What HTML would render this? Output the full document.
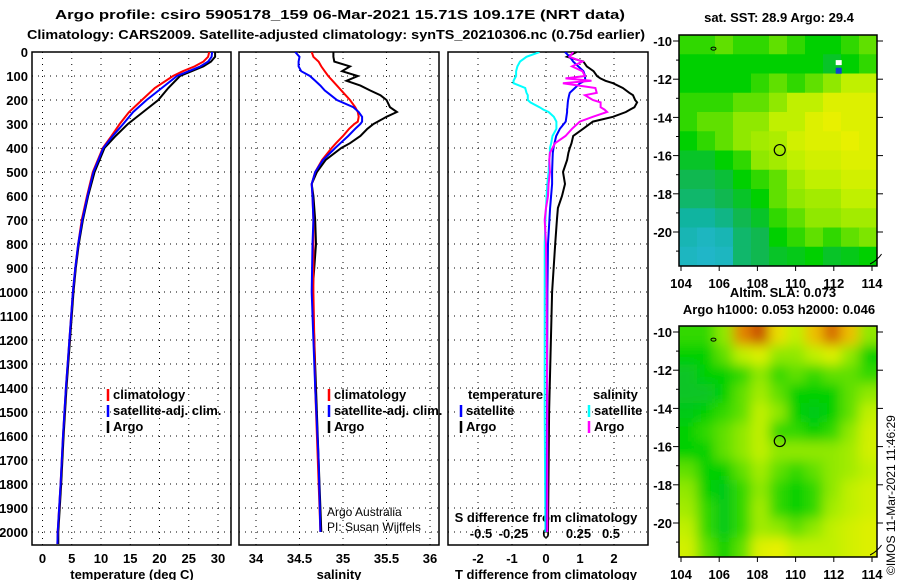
<!DOCTYPE html>
<html><head><meta charset="utf-8"><title>Argo profile</title>
<style>
html,body{margin:0;padding:0;background:#fff;}
svg{display:block;font-family:"Liberation Sans",Arial,sans-serif;}
.b{font-weight:bold;font-size:13px;}
.n{font-weight:normal;font-size:12px;}
</style></head>
<body>
<svg id="chart" width="900" height="580" viewBox="0 0 900 580" xmlns="http://www.w3.org/2000/svg">
<defs>
<clipPath id="c1"><rect x="32" y="52" width="199" height="493"/></clipPath>
<clipPath id="c2"><rect x="239" y="52" width="200" height="493"/></clipPath>
<clipPath id="c3"><rect x="448" y="52" width="200" height="493"/></clipPath>
<clipPath id="cm1"><rect x="679" y="35" width="198" height="231"/></clipPath>
<clipPath id="cm2"><rect x="679" y="326" width="198" height="231"/></clipPath>
<filter id="blur" x="-5%" y="-5%" width="110%" height="110%"><feGaussianBlur stdDeviation="6"/></filter>
</defs>
<text class="b" x="55" y="19" textLength="570" lengthAdjust="spacingAndGlyphs">Argo profile: csiro 5905178_159 06-Mar-2021 15.71S 109.17E (NRT data)</text>
<text class="b" x="27" y="39" textLength="618" lengthAdjust="spacingAndGlyphs">Climatology: CARS2009. Satellite-adjusted climatology: synTS_20210306.nc (0.75d earlier)</text>
<g id="root"></g>
</svg>
<script>
// ---------- data ----------
const depthTicks = [0,100,200,300,400,500,600,700,800,900,1000,1100,1200,1300,1400,1500,1600,1700,1800,1900,2000];
const tempTicks = [0,5,10,15,20,25,30];
const salTicks = [34,34.5,35,35.5,36];
const salTickLabels = ["34","34.5","35","35.5","36"];
const tdTicks = [-2,-1,0,1,2];
const sdTicks = [-0.5,-0.25,0,0.25,0.5];
const sdTickLabels = ["-0.5","-0.25","0","0.25","0.5"];
const lonTicks = [104,106,108,110,112,114];
const latTicks = [-10,-12,-14,-16,-18,-20];

const tDepth = [0,20,40,60,80,100,150,200,250,300,350,400,500,600,700,800,900,1000,1200,1400,1600,1800,2000,2050];
const tempClim = [28.5,28.3,27.5,26,24,22.3,19.2,17,14.8,13.2,11.8,10.3,8.6,7.6,6.7,6.1,5.6,5.2,4.6,4.0,3.5,3.1,2.6,2.55];
const tempSat = [29,28.9,28.3,27,25,23,20.4,17.8,15.5,13.8,12,10.4,8.7,7.7,6.8,6.1,5.6,5.2,4.6,4.0,3.5,3.1,2.6,2.55];
const tempArgo = [29.5,29.5,28.8,27.5,25.5,23.5,21.5,19.8,17.2,14.6,12.5,10.6,8.9,7.8,6.9,6.2,5.7,5.3,4.7,4.1,3.6,3.2,2.7,2.7];

const sDepth = [0,20,40,60,80,100,120,140,160,180,200,230,250,270,290,300,320,350,380,400,450,500,550,600,700,800,1000,1200,1400,1700,2000];
const salClim = [34.64,34.66,34.72,34.75,34.79,34.83,34.88,34.93,34.98,35.03,35.08,35.14,35.17,35.18,35.17,35.13,35.07,35.0,34.92,34.87,34.76,34.68,34.64,34.65,34.66,34.66,34.66,34.67,34.68,34.71,34.74];
const salSat = [34.45,34.5,34.49,34.49,34.52,34.62,34.68,34.74,34.79,34.86,34.93,35.12,35.18,35.22,35.22,35.2,35.14,35.06,34.97,34.91,34.77,34.68,34.64,34.65,34.66,34.65,34.64,34.66,34.68,34.72,34.74];
const salArgo = [34.89,34.89,34.9,35.08,34.99,35.17,35.04,35.2,35.31,35.43,35.5,35.54,35.62,35.5,35.4,35.35,35.28,35.2,35.08,34.98,34.8,34.7,34.64,34.66,34.68,34.69,34.65,34.67,34.69,34.72,34.75];

const dDepth = [0,20,40,60,80,100,110,120,130,150,170,180,200,210,230,240,250,270,290,320,350,380,400,420,450,500,550,600,650,700,800,1000,1500,2000];
const tDiffSat = [0.56,0.7,0.8,0.95,1.1,1.15,1.15,1.15,1.0,0.85,0.7,0.68,0.65,0.64,0.63,0.62,0.62,0.6,0.58,0.41,0.3,0.25,0.22,0.2,0.19,0.18,0.18,0.15,0.12,0.1,0.06,0.04,0.03,0.02];
const tDiffArgo = [0.9,0.62,1.1,1.2,1.4,1.5,1.6,1.75,1.97,2.26,2.45,2.56,2.62,2.68,2.6,2.47,2.35,1.97,1.38,1.09,0.8,0.75,0.7,0.66,0.62,0.5,0.56,0.47,0.35,0.32,0.27,0.18,0.09,0.06];
const sDiffSat = [-0.05,-0.15,-0.2,-0.22,-0.23,-0.23,-0.24,-0.25,-0.25,-0.16,-0.15,-0.14,-0.14,-0.12,-0.05,-0.02,0.02,0.06,0.08,0.08,0.05,0.04,0.03,0.03,0.025,0.02,0.01,0.005,0.0,-0.005,-0.01,-0.01,-0.01,-0.005];
const sDiffArgo = [0.21,0.18,0.28,0.2,0.28,0.3,0.15,0.35,0.13,0.38,0.39,0.3,0.36,0.42,0.42,0.45,0.47,0.36,0.26,0.2,0.15,0.07,0.05,0.03,0.025,0.03,0.02,0.015,0.0,-0.01,0.0,0.005,0.01,0.01];

const sstGrid = [
[0.5,0.5,0.55,0.5,0.5,0.55,0.5,0.45,0.45,0.5,0.55],
[0.45,0.45,0.45,0.45,0.45,0.45,0.45,0.45,0.4,0.45,0.5],
[0.45,0.45,0.45,0.45,0.5,0.55,0.5,0.55,0.6,0.65,0.65],
[0.5,0.5,0.5,0.55,0.55,0.6,0.65,0.65,0.7,0.7,0.7],
[0.5,0.55,0.55,0.6,0.6,0.65,0.65,0.7,0.72,0.7,0.7],
[0.45,0.5,0.55,0.6,0.62,0.63,0.68,0.7,0.7,0.72,0.7],
[0.4,0.4,0.45,0.5,0.6,0.62,0.65,0.68,0.68,0.7,0.7],
[0.35,0.35,0.38,0.45,0.5,0.55,0.62,0.65,0.65,0.68,0.68],
[0.3,0.3,0.35,0.4,0.45,0.55,0.6,0.62,0.62,0.65,0.65],
[0.2,0.2,0.25,0.35,0.4,0.5,0.55,0.6,0.6,0.62,0.62],
[0.15,0.12,0.15,0.3,0.35,0.45,0.5,0.55,0.5,0.55,0.58],
[0.12,0.1,0.12,0.3,0.35,0.4,0.42,0.45,0.4,0.42,0.45]];
const slaGrid = [
[0.5,0.5,0.6,0.9,1.0,0.75,0.65,0.8,0.95,0.8,0.6],
[0.45,0.45,0.55,0.65,0.7,0.6,0.6,0.65,0.7,0.6,0.45],
[0.4,0.45,0.45,0.5,0.6,0.5,0.55,0.5,0.55,0.55,0.5],
[0.4,0.4,0.45,0.55,0.62,0.55,0.45,0.45,0.45,0.55,0.6],
[0.42,0.45,0.5,0.55,0.65,0.6,0.45,0.42,0.45,0.55,0.65],
[0.45,0.5,0.55,0.6,0.65,0.5,0.5,0.45,0.5,0.6,0.68],
[0.45,0.45,0.55,0.6,0.65,0.6,0.6,0.6,0.6,0.62,0.68],
[0.55,0.45,0.45,0.55,0.62,0.55,0.5,0.55,0.6,0.62,0.65],
[0.6,0.45,0.42,0.5,0.6,0.5,0.45,0.5,0.6,0.65,0.68],
[0.62,0.5,0.42,0.5,0.62,0.5,0.45,0.5,0.62,0.65,0.68],
[0.65,0.5,0.42,0.5,0.62,0.6,0.55,0.6,0.65,0.68,0.7],
[0.68,0.55,0.45,0.55,0.7,0.72,0.65,0.65,0.65,0.68,0.7]];
const floatLon = 109.17;
const floatLat = -15.71;

// ---------- helpers ----------
const NS = "http://www.w3.org/2000/svg";
const root = document.getElementById("root");
function mk(tag, attrs, parent) {
  const e = document.createElementNS(NS, tag);
  for (const k in attrs) e.setAttribute(k, attrs[k]);
  (parent || root).appendChild(e);
  return e;
}
function txt(s, x, y, anchor, cls, parent) {
  const t = mk("text", {x: x, y: y, "text-anchor": anchor || "start", "class": cls || "b"}, parent);
  t.textContent = s;
  return t;
}
const depthY = d => 52 + d * 0.24;
const tempX = t => 42.5 + t * 5.85;
const salX = s => 256 + (s - 34) * 87;
const tdX = v => 546 + v * 34;
const sdX = v => 546 + v * 130;
const lonX = l => 681 + (l - 104) * 19.1;
const latY1 = l => 41 + (-10 - l) * 19.1;
const latY2 = l => 332 + (-10 - l) * 19.1;

const panels = [{x: 32, w: 199, clip: "c1"}, {x: 239, w: 200, clip: "c2"}, {x: 448, w: 200, clip: "c3"}];

// ---------- profile panels ----------
panels.forEach((p, i) => {
  const g = mk("g", {});
  
  
  depthTicks.forEach(d => {
    const l = mk("line", {x1: p.x, x2: p.x + p.w, y1: depthY(d), y2: depthY(d), stroke: "#000", "stroke-width": 1, "stroke-dasharray": "1 5"}, g);
    
    
  });
  let xs = i === 0 ? tempTicks.map(tempX) : i === 1 ? salTicks.map(salX) : tdTicks.map(tdX);
  xs.forEach(x => {
    const l = mk("line", {x1: x, x2: x, y1: 52, y2: 545, stroke: "#000", "stroke-width": 1, "stroke-dasharray": "1 5"}, g);
    
    
  });
  const r = mk("rect", {x: p.x, y: 52, width: p.w, height: 493, fill: "none", stroke: "#000", "stroke-width": 1.5}, g);
  
  
});

depthTicks.forEach(d => {
  const t = txt(String(d), 28, depthY(d) + 5, "end");
  
  
});
tempTicks.forEach(v => {
  const t = txt(String(v), tempX(v), 563, "middle");
  
  
});
salTicks.forEach((v, i) => {
  const t = txt(salTickLabels[i], salX(v), 563, "middle");
  
  
});
tdTicks.forEach(v => {
  const t = txt(String(v), tdX(v), 563, "middle");
  
  
});
sdTicks.forEach((v, i) => {
  const t = txt(sdTickLabels[i], sdX(v), 538, "middle");
  
  
});
let at;
at = txt("temperature (deg C)", 132, 579, "middle");  
at = txt("salinity", 339, 579, "middle");  
at = txt("T difference from climatology", 546, 579, "middle");  
at = txt("S difference from climatology", 546, 522, "middle");  

function series(vals, depths, fx, color, clip, name, w) {
  const pts = vals.map((v, i) => fx(v).toFixed(1) + "," + depthY(depths[i]).toFixed(1)).join(" ");
  const pl = mk("polyline", {points: pts, fill: "none", stroke: color, "stroke-width": w || 2, "stroke-linejoin": "miter", "clip-path": "url(#" + clip + ")"});
  
  
}
series(tempArgo, tDepth, tempX, "#000", "c1", "temperature-argo-line");
series(tempClim, tDepth, tempX, "#f00", "c1", "temperature-climatology-line");
series(tempSat, tDepth, tempX, "#00f", "c1", "temperature-satellite-line");
series(salArgo, sDepth, salX, "#000", "c2", "salinity-argo-line");
series(salClim, sDepth, salX, "#f00", "c2", "salinity-climatology-line");
series(salSat, sDepth, salX, "#00f", "c2", "salinity-satellite-line");
series(tDiffArgo, dDepth, tdX, "#000", "c3", "t-diff-argo-line");
series(sDiffSat, dDepth, sdX, "#0ff", "c3", "s-diff-satellite-line");
series(tDiffSat, dDepth, tdX, "#00f", "c3", "t-diff-satellite-line");
series(sDiffArgo, dDepth, sdX, "#f0f", "c3", "s-diff-argo-line");

function legend(x, y, color, label, name) {
  const g = mk("g", {});
  
  
  mk("line", {x1: x, x2: x, y1: y - 10, y2: y + 2, stroke: color, "stroke-width": 2.5}, g);
  txt(label, x + 5, y, "start", "b", g);
}
legend(108, 399, "#f00", "climatology", "legend-t-climatology");
legend(108, 415, "#00f", "satellite-adj. clim.", "legend-t-satellite");
legend(108, 431, "#000", "Argo", "legend-t-argo");
legend(329, 399, "#f00", "climatology", "legend-s-climatology");
legend(329, 415, "#00f", "satellite-adj. clim.", "legend-s-satellite");
legend(329, 431, "#000", "Argo", "legend-s-argo");
at = txt("temperature", 468, 399);  
at = txt("salinity", 593, 399);  
legend(461, 415, "#00f", "satellite", "legend-tdiff-satellite");
legend(461, 431, "#000", "Argo", "legend-tdiff-argo");
legend(589, 415, "#0ff", "satellite", "legend-sdiff-satellite");
legend(589, 431, "#f0f", "Argo", "legend-sdiff-argo");
const cr1 = txt("Argo Australia", 327, 516, "start", "n");
 
const cr2 = txt("PI: Susan Wijffels", 327, 531, "start", "n");
 

// ---------- maps ----------
const stops = [[0,[48,184,240]],[0.2,[16,180,160]],[0.35,[16,184,80]],[0.45,[0,208,0]],[0.55,[96,224,0]],[0.65,[192,240,0]],[0.72,[232,240,0]],[0.85,[240,160,0]],[1,[200,80,0]]];
function cmap(v) {
  for (let i = 1; i < stops.length; i++) {
    if (v <= stops[i][0]) {
      const a = stops[i-1], b = stops[i], f = (v - a[0]) / (b[0] - a[0]);
      const c = a[1].map((q, k) => Math.round(q + (b[1][k] - q) * f));
      return "rgb(" + c.join(",") + ")";
    }
  }
  return "rgb(200,80,0)";
}
function drawMap(grid, top, clip, latY, name, blur) {
  const g = mk("g", {"clip-path": "url(#" + clip + ")"});
  
  
  const inner = mk("g", blur ? {filter: "url(#blur)"} : {}, g);
  const rows = grid.length, cols = grid[0].length;
  const cw = 198 / cols, ch = 231 / rows;
  grid.forEach((row, r) => row.forEach((v, c) => {
    const ext = blur ? 12 : 0;
    const x = 679 + c * cw - (c === 0 ? ext : 0), y = top + r * ch - (r === 0 ? ext : 0);
    const w = cw + 0.5 + (c === 0 || c === cols - 1 ? ext : 0), h = ch + 0.5 + (r === 0 || r === rows - 1 ? ext : 0);
    const cell = mk("rect", {x: x, y: y, width: w, height: h, fill: cmap(v)}, inner);
    
    
  }));
  const mk1 = mk("circle", {cx: lonX(floatLon), cy: latY(floatLat), r: 5.5, fill: "none", stroke: "#000", "stroke-width": 1.2});
  
  
  mk("ellipse", {cx: lonX(105.7), cy: latY(-10.4), rx: 2.5, ry: 1.5, fill: "none", stroke: "#000", "stroke-width": 1});
  mk("path", {d: "M" + (lonX(113.9)) + " " + (top + 229) + " Q" + lonX(114.3) + " " + (top + 225) + " " + lonX(114.5) + " " + (top + 219), fill: "none", stroke: "#000", "stroke-width": 1});
  const fr = mk("rect", {x: 679, y: top, width: 198, height: 231, fill: "none", stroke: "#000", "stroke-width": 1.5});
  
  
  latTicks.forEach(l => {
    mk("line", {x1: 673, x2: 679, y1: latY(l), y2: latY(l), stroke: "#000"});
    mk("line", {x1: 877, x2: 883, y1: latY(l), y2: latY(l), stroke: "#000"});
    const t = txt(String(l), 672, latY(l) + 5, "end");
    
    
  });
  [-11,-13,-15,-17,-19,-21].forEach(l => mk("line", {x1: 676, x2: 679, y1: latY(l), y2: latY(l), stroke: "#000"}));
  lonTicks.forEach(l => {
    mk("line", {x1: lonX(l), x2: lonX(l), y1: top + 231, y2: top + 236, stroke: "#000"});
    const t = txt(String(l), lonX(l), top + 253, "middle");
    
    
  });
}
drawMap(sstGrid, 35, "cm1", latY1, "sst-map", false);
const px = mk("rect", {x: lonX(112.1), y: latY1(-11.0), width: 6, height: 5, fill: "#fff", "clip-path": "url(#cm1)"});
const px2 = mk("rect", {x: lonX(112.1), y: latY1(-11.4), width: 6, height: 6, fill: "#1040d0", "clip-path": "url(#cm1)"});
drawMap(slaGrid, 326, "cm2", latY2, "sla-map", true);
at = txt("sat. SST: 28.9 Argo: 29.4", 779, 22, "middle");  
at = txt("Altim. SLA: 0.073", 783, 297, "middle");  
at = txt("Argo h1000: 0.053 h2000: 0.046", 779, 314, "middle");  
const cp = mk("text", {x: 0, y: 0, transform: "translate(895,575) rotate(-90)", "font-size": "12"});
cp.textContent = "\u00A9IMOS 11-Mar-2021 11:46:29";


</script>
</body></html>
